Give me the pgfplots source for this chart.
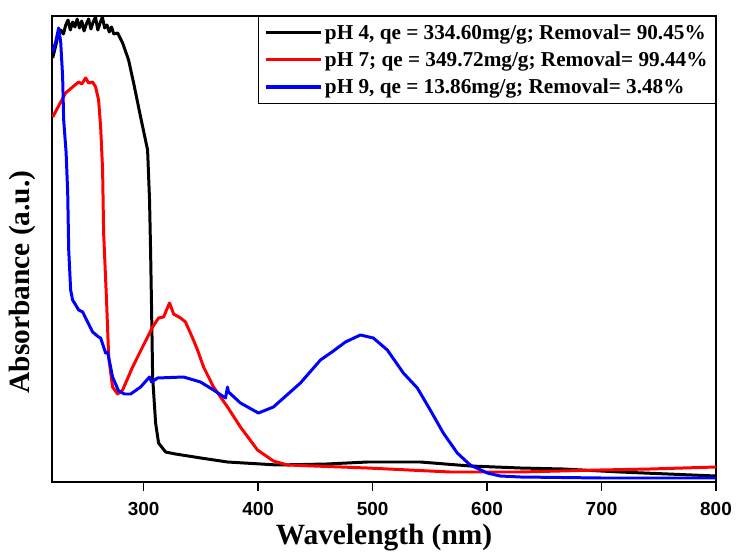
\documentclass[border=0pt]{standalone}
\usepackage{pgfplots}
\pgfplotsset{compat=1.18}
\usepackage{fontspec}
\setmainfont{Liberation Serif}
\newfontfamily\ticksf{Liberation Sans}
\begin{document}
\begin{tikzpicture}
\useasboundingbox (-52bp,-71bp) rectangle (684bp,482bp);
\begin{axis}[
 at={(0,0)}, anchor=south west,
 scale only axis, width=664bp, height=466bp,
 xmin=220, xmax=800, ymin=0, ymax=466,
 xtick={300,400,...,800}, ytick=\empty,
 xtick pos=bottom, tick align=outside, major tick length=9bp,
 axis line style={line width=1.2pt},
 tick style={line width=1.2pt, black},
 xticklabel style={font=\ticksf\bfseries\fontsize{19}{19}\selectfont, yshift=-8bp},
 /pgf/number format/assume math mode=true,
 xlabel={Wavelength (nm)}, ylabel={Absorbance (a.u.)},
 label style={font=\bfseries\fontsize{29.5}{29.5}\selectfont},
 xlabel style={at={(axis description cs:0.5,-0.135)}, anchor=base},
 ylabel style={at={(axis description cs:-0.045,0.429)}, anchor=center},
 legend style={at={(rel axis cs:1,1)}, anchor=north east, draw=black, line width=1pt,
   font=\bfseries\fontsize{21.3}{21.3}\selectfont, row sep=7bp, inner xsep=6bp, inner ysep=6bp},
 legend cell align=left,
 legend image code/.code={\draw[#1, line width=3.4pt] (0bp,0bp) -- (55bp,0bp);},
]
\addplot[black, line width=3pt, line join=round] coordinates {
(220.6,424) (223,435) (225,445) (227.6,452) (230,448) (232,457) (234,462) (236,452) (238,460) (240,455) (242,463) (244,454) (246,461) (248,451) (250,458) (252,463) (254,453) (256,460) (258,465) (260,452) (262,459) (264,465) (266,454) (268,457) (270,450) (272,455) (274,448) (277.3,449) (281.7,439) (286.9,422) (291.3,399) (297.4,365) (303.5,332) (305.2,282) (306.1,232) (307,172) (307.9,105) (310.5,59) (313.1,39) (319.2,30) (327.9,28) (350,24) (373.3,20) (416.9,17) (460,18) (495.5,20) (541.7,20) (585.3,16) (629,14) (666.5,13) (716,10) (800,6)
};
\addlegendentry{pH 4, qe = 334.60mg/g; Removal= 90.45\%}
\addplot[red, line width=3pt, line join=round] coordinates {
(220.6,365) (231.9,389) (238,395) (243.3,400) (246,398) (249.4,404) (252,399) (255.5,400) (258.1,395) (260.7,382) (262.5,355) (264.2,312) (265.1,249) (267.7,180) (269.5,125) (272.9,95) (277.3,88) (281.7,92) (290.4,115) (299.1,135) (307.9,155) (313.1,164) (317.5,165) (320,172) (322.7,179) (326.2,168) (332.3,164) (336.6,160) (342.8,144) (347.1,132) (352.4,115) (361.1,95) (373.3,75) (384.6,55) (399.5,32) (413.4,21) (425.7,17) (495.5,14) (567.9,10) (629,10) (698.8,12) (742.4,13) (800,15)
};
\addlegendentry{pH 7; qe = 349.72mg/g; Removal= 99.44\%}
\addplot[blue, line width=3pt, line join=round] coordinates {
(220.6,430) (223.2,440) (225.8,454) (227.6,440) (229.3,405) (230.2,362) (232.3,330) (233.7,290) (234.6,232) (236.3,192) (238,182) (240.7,177) (243.3,172) (246.8,170) (249.4,164) (255.5,150) (260.7,145) (262.5,144) (266.8,129) (268.6,130) (272.9,105) (278.2,91) (283.4,88) (288.7,88) (297.4,95) (305.2,105) (307,100) (312.2,104) (334.9,105) (349.7,100) (361.1,92) (371.6,84) (373.3,95) (374.2,90) (384.6,79) (400.3,69) (413.4,75) (437,99) (454.5,122) (465.8,131) (476.3,140) (489.4,147) (500.7,144) (512.9,132) (526.9,109) (539.1,94) (550.4,72) (561.8,49) (574,29) (585.3,17) (600.2,9) (611.5,6) (629,5) (700,4) (800,4)
};
\addlegendentry{pH 9, qe = 13.86mg/g; Removal= 3.48\%}
\end{axis}
\end{tikzpicture}
\end{document}
